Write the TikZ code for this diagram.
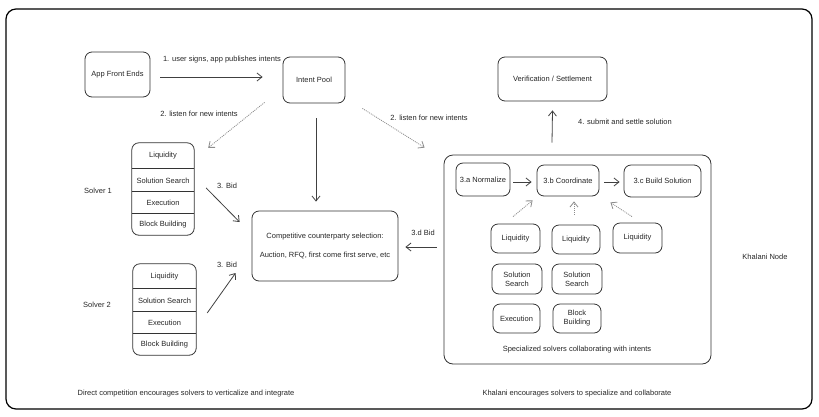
\documentclass[tikz,border=0pt]{standalone}
\usepackage{fontspec}
\setmainfont{Liberation Sans}
\usetikzlibrary{arrows.meta}
\begin{document}
\begin{tikzpicture}[x=1pt,y=-1pt,
  every node/.style={font=\fontsize{7.5}{9}\selectfont, text=black!85},
  box/.style={draw=black!80, line width=0.8pt, rounded corners=7pt, align=center, inner sep=1pt},
  cell/.style={draw=none, inner sep=0pt, minimum width=62pt},
  lbl/.style={inner sep=0pt},
  arr/.style={draw=black!75, line width=0.8pt, -{Straight Barb[length=5pt,width=8pt]}},
  darr/.style={draw=black!45, line width=0.8pt, dash pattern=on 1pt off 1pt, -{Straight Barb[length=5pt,width=8pt]}},
  sep/.style={draw=black!80, line width=0.8pt}
]
\useasboundingbox (0,0) rectangle (819,416);
% outer frame
\draw[black, line width=1.2pt, rounded corners=10pt] (6,9) rectangle (812,409);

% top row
\node[box, minimum width=65pt, minimum height=45pt] (app) at (117.5,74.5) {App Front Ends};
\node[box, minimum width=62pt, minimum height=46pt] (pool) at (314,80) {Intent Pool};
\node[box, minimum width=109pt, minimum height=44pt] (verif) at (552.5,79) {Verification / Settlement};

% competitive selection
\node[box, minimum width=146pt, minimum height=70pt] (comp) at (325,246)
  {Competitive counterparty selection:\\[10.5pt]Auction, RFQ, first come first serve, etc};

% solver 1 stack
\node[cell, minimum height=26pt] (s1a) at (163,156) {Liquidity};
\node[cell, minimum height=23pt] (s1b) at (163,180.5) {Solution Search};
\node[cell, minimum height=22pt] (s1c) at (163,203) {Execution};
\node[cell, minimum height=21pt] (s1d) at (163,224.5) {Block Building};
\draw[sep, rounded corners=7pt] (s1a.north west) rectangle (s1d.south east);
\draw[sep] (s1b.north west) -- (s1b.north east);
\draw[sep] (s1c.north west) -- (s1c.north east);
\draw[sep] (s1d.north west) -- (s1d.north east);

% solver 2 stack
\node[cell, minimum width=63pt, minimum height=25pt] (s2a) at (164.5,276.5) {Liquidity};
\node[cell, minimum width=63pt, minimum height=23pt] (s2b) at (164.5,300.5) {Solution Search};
\node[cell, minimum width=63pt, minimum height=22pt] (s2c) at (164.5,323) {Execution};
\node[cell, minimum width=63pt, minimum height=21pt] (s2d) at (164.5,344.5) {Block Building};
\draw[sep, rounded corners=7pt] (s2a.north west) rectangle (s2d.south east);
\draw[sep] (s2b.north west) -- (s2b.north east);
\draw[sep] (s2c.north west) -- (s2c.north east);
\draw[sep] (s2d.north west) -- (s2d.north east);

\node[lbl] (sol1) at (98,191) {Solver 1};
\node[lbl] (sol2) at (97,305) {Solver 2};

% Khalani node
\node[box, rounded corners=9pt, minimum width=267pt, minimum height=209pt] (khal) at (577.5,259.5) {};
\node[box, minimum width=54pt, minimum height=33pt] (norm) at (483,179.5) {3.a Normalize};
\node[box, minimum width=62pt, minimum height=31pt] (coord) at (568,180.5) {3.b Coordinate};
\node[box, minimum width=77pt, minimum height=32pt] (build) at (662.5,181) {3.c Build Solution};
\node[box, minimum width=49pt, minimum height=29pt] (liq1) at (515.5,238.5) {Liquidity};
\node[box, minimum width=48pt, minimum height=29pt] (liq2) at (576,239.5) {Liquidity};
\node[box, minimum width=49pt, minimum height=30pt] (liq3) at (637.5,238) {Liquidity};
\node[box, minimum width=50pt, minimum height=30pt] (ss1) at (517,279) {Solution\\Search};
\node[box, minimum width=50pt, minimum height=30pt] (ss2) at (577,279) {Solution\\Search};
\node[box, minimum width=47pt, minimum height=29pt] (exec) at (516.5,318.5) {Execution};
\node[box, minimum width=48pt, minimum height=29pt] (bb) at (577,318.5) {Block\\Building};
\node[lbl] (spec) at (577,350) {Specialized solvers collaborating with intents};
\node[lbl] (khn) at (765,257) {Khalani Node};

% connectors
\draw[arr] ([xshift=10pt,yshift=-2.5pt]app.east) -- ([xshift=-20pt,yshift=3pt]pool.west);
\draw[darr] ([xshift=-18pt,yshift=1pt]pool.south west) -- ([xshift=14pt,yshift=-5pt]s1a.north east);
\draw[arr] ([xshift=2pt,yshift=-15pt]pool.south) -- ([xshift=-9pt,yshift=9pt]comp.north);
\draw[darr] ([xshift=17pt,yshift=-5pt]pool.south east) -- ([xshift=-19pt,yshift=7pt]khal.north west);
\draw[arr] ([xshift=12pt,yshift=-7.5pt]s1b.east) -- ([xshift=-12pt,yshift=24pt]comp.west);
\draw[arr] ([xshift=11pt,yshift=10pt]s2c.east) -- ([xshift=-16pt,yshift=-27pt]comp.west);
\draw[arr] ([xshift=-7pt,yshift=12.5pt]khal.west) -- ([xshift=7pt,yshift=-1pt]comp.east);
\draw[arr] ([xshift=-25.5pt,yshift=12pt]khal.north) -- ([yshift=-9pt]verif.south);
\draw[arr] ([xshift=3pt,yshift=-2.5pt]norm.east) -- ([xshift=-5pt,yshift=-1.5pt]coord.west);
\draw[arr] ([xshift=5pt,yshift=-1.5pt]coord.east) -- ([xshift=-4pt,yshift=-1pt]build.west);
\draw[darr] ([xshift=-2.5pt,yshift=7pt]liq1.north) -- ([xshift=-4pt,yshift=-4pt]coord.south west);
\draw[darr] ([xshift=-2pt,yshift=10pt]liq2.north) -- ([xshift=6pt,yshift=-5pt]coord.south);
\draw[darr] ([xshift=-5.5pt,yshift=6pt]liq3.north) -- ([xshift=11pt,yshift=-6pt]coord.south east);

% labels
\node[lbl] (l1) at (222,60) {1. user signs, app publishes intents};
\node[lbl] (l2a) at (199,114) {2. listen for new intents};
\node[lbl] (l2b) at (429,118) {2. listen for new intents};
\node[lbl] (l3a) at (227,186) {3. Bid};
\node[lbl] (l3b) at (227,265) {3. Bid};
\node[lbl] (l3d) at (423,233) {3.d Bid};
\node[lbl] (l4) at (625,122) {4. submit and settle solution};

% captions
\node[lbl] (cap1) at (186,394) {Direct competition encourages solvers to verticalize and integrate};
\node[lbl] (cap2) at (577,394) {Khalani encourages solvers to specialize and collaborate};
\end{tikzpicture}
\end{document}
